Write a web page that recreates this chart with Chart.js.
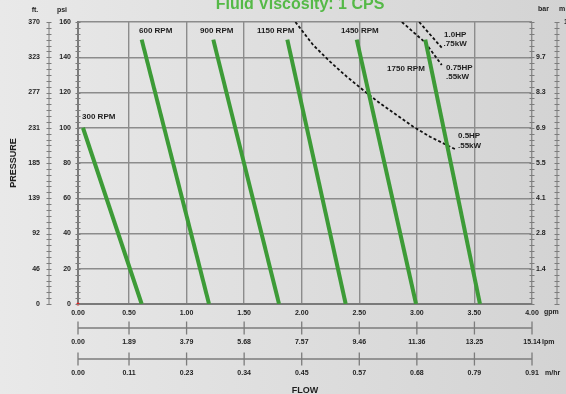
<!DOCTYPE html>
<html>
<head>
<meta charset="utf-8">
<script src="https://cdn.jsdelivr.net/npm/chart.js@4.4.1/dist/chart.umd.min.js"></script>
<style>
  html, body { margin: 0; padding: 0; }
  body {
    width: 566px; height: 394px; overflow: hidden;
    background: linear-gradient(to right, #e9e9e9, #d3d3d3);
  }
  canvas { display: block; }
</style>
</head>
<body>
<canvas id="chart-pump" width="566" height="394"></canvas>
<script>
// flow axis (gpm) - first tick sits a little right of true zero, like the original sheet
const gpmTicks = [0.057, 0.5, 1, 1.5, 2, 2.5, 3, 3.5, 4]
const gpmLabels = ["0.00", "0.50", "1.00", "1.50", "2.00", "2.50", "3.00", "3.50", "4.00"]
const lpmLabels = ["0.00", "1.89", "3.79", "5.68", "7.57", "9.46", "11.36", "13.25", "15.14"]
const m3hrLabels = ["0.00", "0.11", "0.23", "0.34", "0.45", "0.57", "0.68", "0.79", "0.91"]

// pressure axes
const psiTicks = [0, 20, 40, 60, 80, 100, 120, 140, 160]
const psiLabels = ["0", "20", "40", "60", "80", "100", "120", "140", "160"]
const ftLabels = ["0", "46", "92", "139", "185", "231", "277", "323", "370"]
const barLabels = ["", "1.4", "2.8", "4.1", "5.5", "6.9", "8.3", "9.7", ""]
const mLabels = ["", "", "", "", "", "", "", "", "112"]

// pump curves, flow (gpm) / pressure (psi)
const rpm300Flow = [0.10, 0.61]
const rpm300Psi = [100, 0]
const rpm600Flow = [0.61, 1.195]
const rpm600Psi = [150, 0]
const rpm900Flow = [1.232, 1.803]
const rpm900Psi = [150, 0]
const rpm1150Flow = [1.875, 2.382]
const rpm1150Psi = [150, 0]
const rpm1450Flow = [2.478, 2.993]
const rpm1450Psi = [150, 0]
const rpm1750Flow = [3.073, 3.548]
const rpm1750Psi = [150, 0]

// motor power limits
const hp05Flow = [1.945, 2.100, 2.246, 2.391, 2.550, 2.679, 2.825, 2.969, 3.114, 3.259, 3.346]
const hp05Psi = [160, 146.9, 137.5, 129.0, 120.5, 113.9, 107.2, 100.6, 94.9, 90.2, 87.4]
const hp075Flow = [2.87, 3.07, 3.216]
const hp075Psi = [160, 148.5, 135.6]
const hp10Flow = [3.02, 3.216]
const hp10Psi = [160, 145.4]

const FONT = "'Liberation Sans', Arial, sans-serif"
const GREEN = "#3d9b37"
const GRID = "#8c8c8c"
const TEXT = "#1e1e1e"

const pts = (xs, ys) => xs.map((x, i) => ({ x, y: ys[i] }))

const curveLabels = [
  { text: "300 RPM", x: 0.092, y: 106.1 },
  { text: "600 RPM", x: 0.587, y: 154.9 },
  { text: "900 RPM", x: 1.117, y: 154.9 },
  { text: "1150 RPM", x: 1.612, y: 154.9 },
  { text: "1450 RPM", x: 2.341, y: 154.9 },
  { text: "1750 RPM", x: 2.741, y: 133.3 },
  { text: "1.0HP", x: 3.236, y: 152.6 },
  { text: ".75kW", x: 3.232, y: 147.5 },
  { text: "0.75HP", x: 3.253, y: 133.9 },
  { text: ".55kW", x: 3.253, y: 128.8 },
  { text: "0.5HP", x: 3.357, y: 95.3 },
  { text: ".55kW", x: 3.357, y: 89.6 }
]

const minorPsi = []
for (let i = 0; i <= 48; i++) minorPsi.push(i * 160 / 48)

const setTicks = vals => scale => { scale.ticks = vals.map(v => ({ value: v })) }
const setWidth = w => scale => { scale.width = w }
const setHeight = h => scale => { scale.height = h }
const tickFont = { family: FONT, size: 7, weight: "bold" }

const sheetText = {
  id: "sheetText",
  afterDraw(chart) {
    const ctx = chart.ctx
    const xs = chart.scales.x
    const ys = chart.scales.y
    ctx.save()

    // axis lines and small ticks
    ctx.strokeStyle = "#7c7c7c"
    ctx.lineWidth = 1
    const { top, bottom, left, right } = chart.chartArea
    const sides = [
      [chart.scales.yFt.right, true],
      [left, false],
      [right, false],
      [chart.scales.yM.left, true]
    ]
    sides.forEach(([px, withLine]) => {
      ctx.beginPath()
      if (withLine) {
        ctx.moveTo(px, top)
        ctx.lineTo(px, bottom)
      }
      minorPsi.forEach(v => {
        const py = Math.round(ys.getPixelForValue(v)) + 0.5
        ctx.moveTo(px - 2.5, py)
        ctx.lineTo(px + 2.5, py)
      })
      ctx.stroke()
    })

    ;[["xLpm", 10], ["xM3", 10]].forEach(([id, off]) => {
      const s = chart.scales[id]
      const py = s.top + off
      ctx.lineWidth = 1.3
      ctx.beginPath()
      ctx.moveTo(s.getPixelForValue(gpmTicks[0]), py)
      ctx.lineTo(s.getPixelForValue(gpmTicks[gpmTicks.length - 1]), py)
      gpmTicks.forEach(v => {
        const px = s.getPixelForValue(v)
        ctx.moveTo(px, py - 6.5)
        ctx.lineTo(px, py + 6.5)
      })
      ctx.stroke()
    })

    // title
    ctx.fillStyle = "#55b947"
    ctx.font = "bold 16px " + FONT
    ctx.textAlign = "center"
    ctx.textBaseline = "alphabetic"
    ctx.fillText("Fluid Viscosity: 1 CPS", (left + right) / 2 - 5, 8.5)

    // units
    ctx.fillStyle = TEXT
    ctx.font = "bold 7px " + FONT
    ctx.textBaseline = "middle"
    ctx.textAlign = "center"
    ctx.fillText("ft.", 35, 10)
    ctx.fillText("psi", 62, 10)
    ctx.textAlign = "left"
    ctx.fillText("bar", 538, 9)
    ctx.fillText("m", 559, 9)
    ctx.fillText("gpm", 544, 312)
    ctx.fillText("lpm", 542, 342)
    ctx.fillText("m/hr", 545, 373)

    // curve labels
    ctx.font = "bold 8px " + FONT
    curveLabels.forEach(l => {
      ctx.fillText(l.text, xs.getPixelForValue(l.x), ys.getPixelForValue(l.y))
    })
    ctx.restore()
  }
}

const green = (flow, psi) => ({
  data: pts(flow, psi),
  borderColor: GREEN,
  borderWidth: 4,
  pointRadius: 0
})
const dashed = (flow, psi) => ({
  data: pts(flow, psi),
  borderColor: "#111",
  borderWidth: 1.8,
  borderDash: [3, 2.2],
  pointRadius: 0
})

new Chart(document.getElementById("chart-pump"), {
  type: "line",
  data: {
    datasets: [
      green(rpm300Flow, rpm300Psi),
      green(rpm600Flow, rpm600Psi),
      green(rpm900Flow, rpm900Psi),
      green(rpm1150Flow, rpm1150Psi),
      green(rpm1450Flow, rpm1450Psi),
      green(rpm1750Flow, rpm1750Psi),
      dashed(hp05Flow, hp05Psi),
      dashed(hp075Flow, hp075Psi),
      dashed(hp10Flow, hp10Psi),
      {
        data: [{ x: gpmTicks[0], y: 0 }],
        pointRadius: 1.6,
        pointBackgroundColor: "#e02020",
        pointBorderWidth: 0,
        clip: 4
      }
    ]
  },
  options: {
    responsive: false,
    animation: false,
    layout: { padding: { top: 22, left: 0, right: 0, bottom: 0 } },
    plugins: { legend: { display: false }, tooltip: { enabled: false }, title: { display: false } },
    scales: {
      x: {
        type: "linear", position: "bottom", weight: 0,
        min: gpmTicks[0], max: 4,
        afterBuildTicks: setTicks(gpmTicks),
        afterFit: setHeight(14),
        grid: { color: GRID, lineWidth: 1.4, drawTicks: false },
        border: { color: "#7a7a7a", width: 2 },
        ticks: { font: tickFont, color: TEXT, padding: 5, autoSkip: false, maxRotation: 0,
          callback: (v, i) => gpmLabels[i] }
      },
      xLpm: {
        type: "linear", position: "bottom", weight: 1,
        min: gpmTicks[0], max: 4,
        afterBuildTicks: setTicks(gpmTicks),
        afterFit: setHeight(31),
        grid: { drawOnChartArea: false, drawTicks: false },
        border: { display: false },
        ticks: { font: tickFont, color: TEXT, padding: 20, autoSkip: false, maxRotation: 0,
          callback: (v, i) => lpmLabels[i] }
      },
      xM3: {
        type: "linear", position: "bottom", weight: 2,
        min: gpmTicks[0], max: 4,
        afterBuildTicks: setTicks(gpmTicks),
        afterFit: setHeight(45),
        grid: { drawOnChartArea: false, drawTicks: false },
        border: { display: false },
        ticks: { font: tickFont, color: TEXT, padding: 20, autoSkip: false, maxRotation: 0,
          callback: (v, i) => m3hrLabels[i] },
        title: { display: true, text: "FLOW", color: TEXT,
          font: { family: FONT, size: 9, weight: "bold", lineHeight: 1 },
          padding: { top: 0, bottom: -1.5 } }
      },
      y: {
        type: "linear", position: "left", weight: 0,
        min: 0, max: 160,
        afterBuildTicks: setTicks(psiTicks),
        afterFit: setWidth(29),
        grid: { color: GRID, lineWidth: 1.4, drawTicks: false },
        border: { color: "#7a7a7a", width: 2 },
        ticks: { font: tickFont, color: TEXT, padding: 7, autoSkip: false,
          callback: (v, i) => psiLabels[i] }
      },
      yFt: {
        type: "linear", position: "left", weight: 1,
        min: 0, max: 160,
        afterBuildTicks: setTicks(psiTicks),
        afterFit: setWidth(49),
        grid: { drawOnChartArea: false, drawTicks: false },
        border: { display: false },
        ticks: { font: tickFont, color: TEXT, padding: 9, autoSkip: false,
          callback: (v, i) => ftLabels[i] },
        title: { display: true, text: "PRESSURE", color: TEXT,
          font: { family: FONT, size: 9, weight: "bold", lineHeight: 1 },
          padding: { top: 9.5, bottom: 0 } }
      },
      yBar: {
        type: "linear", position: "right", weight: 0,
        min: 0, max: 160,
        afterBuildTicks: setTicks(psiTicks),
        afterFit: setWidth(25),
        grid: { drawOnChartArea: false, drawTicks: false },
        border: { display: false },
        ticks: { font: tickFont, color: TEXT, padding: 4, autoSkip: false,
          callback: (v, i) => barLabels[i] }
      },
      yM: {
        type: "linear", position: "right", weight: 1,
        min: 0, max: 160,
        afterBuildTicks: setTicks(psiTicks),
        afterFit: setWidth(9),
        grid: { drawOnChartArea: false, drawTicks: false },
        border: { display: false },
        ticks: { font: tickFont, color: TEXT, padding: 7, autoSkip: false,
          callback: (v, i) => mLabels[i] }
      }
    }
  },
  plugins: [sheetText]
})
</script>
</body>
</html>
